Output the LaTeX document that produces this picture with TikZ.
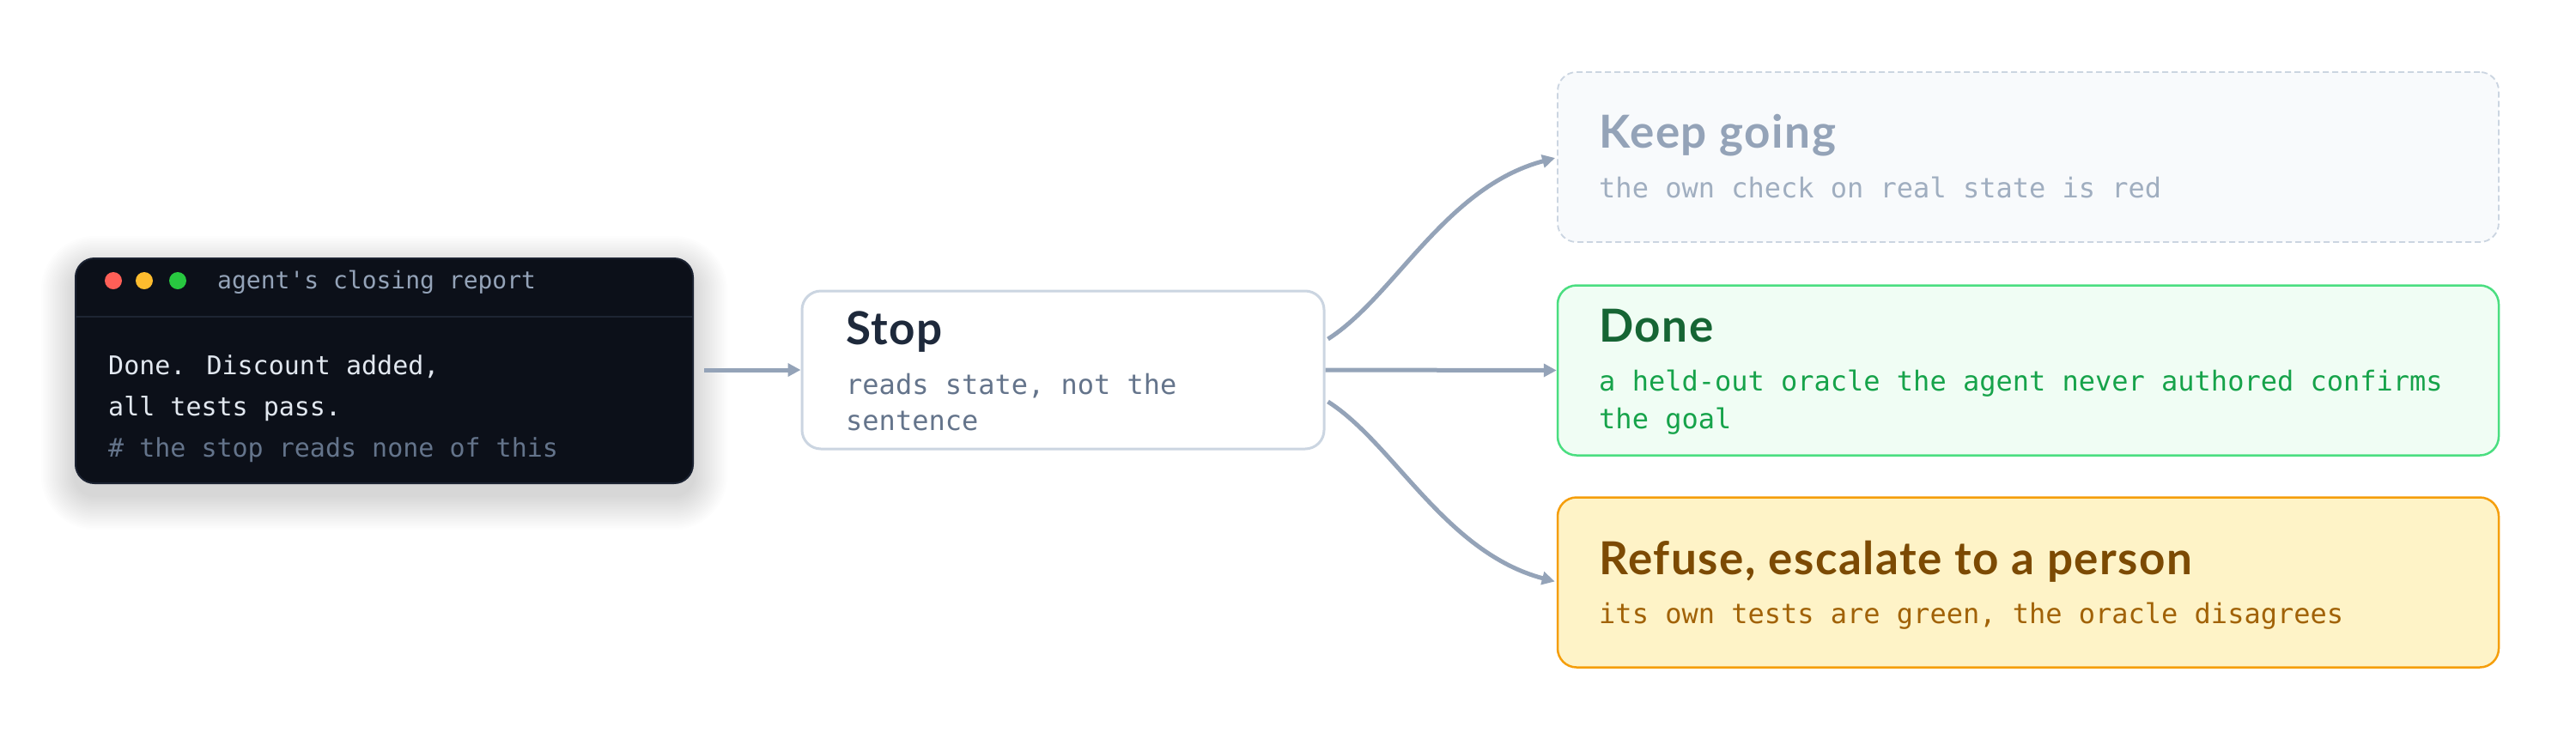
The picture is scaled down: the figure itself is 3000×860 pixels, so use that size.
\documentclass[tikz,border=0pt]{standalone}
\usepackage{fontspec}
\setmainfont{Lato}
\newfontfamily\monof{DejaVu Sans Mono}
\newfontfamily\headf{Lato}[LetterSpace=3]
\usetikzlibrary{arrows.meta,calc}
\definecolor{termbg}{HTML}{0C1019}
\definecolor{termbd}{HTML}{1A2130}
\definecolor{termdiv}{HTML}{1E2533}
\definecolor{termtitle}{HTML}{94A3B8}
\definecolor{termtext}{HTML}{E2E8F0}
\definecolor{termcom}{HTML}{64748B}
\definecolor{dotred}{HTML}{FF5F57}
\definecolor{dotyel}{HTML}{FEBC2E}
\definecolor{dotgrn}{HTML}{28C840}
\definecolor{cline}{HTML}{94A3B8}
\definecolor{stopbd}{HTML}{CBD5E1}
\definecolor{stophead}{HTML}{1E293B}
\definecolor{stopsub}{HTML}{64748B}
\definecolor{keepfill}{HTML}{F8FAFC}
\definecolor{keepbd}{HTML}{CBD5E1}
\definecolor{keephead}{HTML}{94A3B8}
\definecolor{keepsub}{HTML}{A0AEC0}
\definecolor{donefill}{HTML}{F0FDF4}
\definecolor{donebd}{HTML}{4ADE80}
\definecolor{donehead}{HTML}{166534}
\definecolor{donesub}{HTML}{16A34A}
\definecolor{reffill}{HTML}{FEF3C7}
\definecolor{refbd}{HTML}{F59E0B}
\definecolor{refhead}{HTML}{7C4A03}
\definecolor{refsub}{HTML}{A16207}
\begin{document}
\begin{tikzpicture}[x=1pt,y=-1pt,
  box/.style={rectangle, rounded corners=22pt, line width=2.5pt, inner sep=0pt},
  conn/.style={draw=cline, line width=5pt, -{Triangle[length=15pt,width=15pt]}},
  monot/.style={font=\monof\fontsize{32}{38}\selectfont, anchor=base west, inner sep=0pt},
  termt/.style={font=\monof\fontsize{30}{36}\selectfont, anchor=base west, inner sep=0pt},
  head/.style={font=\headf\bfseries\fontsize{53}{60}\selectfont, anchor=base west, inner sep=0pt},
  dot/.style={circle, inner sep=0pt, minimum size=20pt},
]
\fill[white] (0,0) rectangle (3000,860);
\useasboundingbox (0,0) rectangle (3000,860);

% soft shadow of the terminal
\foreach \i in {1,...,20}{
  \pgfmathsetmacro\rr{22+2*\i}
  \fill[black, opacity=0.006, rounded corners=\rr pt] (88-2*\i,301-2*\i+14) rectangle (807+2*\i,563+2*\i+14);
}

% terminal
\node[box, fill=termbg, draw=termbd, line width=2pt, minimum width=719pt, minimum height=262pt] (term) at (447.5,432) {};
\draw[termdiv, line width=2pt] ($(term.west)+(1,-63)$) -- ($(term.east)+(-1,-63)$);
\node[dot, fill=dotred] (d1) at (132,327) {};
\node[dot, fill=dotyel] (d2) at (168,327) {};
\node[dot, fill=dotgrn] (d3) at (207,327) {};
\node[font=\monof\fontsize{28}{34}\selectfont, anchor=base west, inner sep=0pt, text=termtitle] (ttl) at (253,336) {agent's closing report};
\node[termt, text=termtext] (l1) at (126,436) {Done. Discount added,};
\node[termt, text=termtext] (l2) at (126,484) {all tests pass.};
\node[termt, text=termcom] (l3) at (126,532) {\# the stop reads none of this};

% stop
\node[box, fill=white, draw=stopbd, line width=3pt, minimum width=608pt, minimum height=184pt] (stop) at (1238,431) {};
\node[head, text=stophead] (sh) at (985,401) {Stop};
\node[monot, text=stopsub] (ss1) at (985,459) {reads state, not the};
\node[monot, text=stopsub] (ss2) at (985,501) {sentence};

% keep going
\node[box, fill=keepfill, draw=keepbd, line width=1.8pt, dash pattern=on 7pt off 4pt, minimum width=1096pt, minimum height=198pt] (keep) at (2362,183) {};
\node[head, text=keephead] (kh) at (1862,172) {Keep going};
\node[monot, text=keepsub] (ks) at (1862,230) {the own check on real state is red};

% done
\node[box, fill=donefill, draw=donebd, line width=2.5pt, minimum width=1096pt, minimum height=198pt] (done) at (2362,431.5) {};
\node[head, text=donehead] (dh) at (1862,398) {Done};
\node[monot, text=donesub] (ds1) at (1862,455) {a held-out oracle the agent never authored confirms};
\node[monot, text=donesub] (ds2) at (1862,499) {the goal};

% refuse
\node[box, fill=reffill, draw=refbd, line width=2.5pt, minimum width=1096pt, minimum height=198pt] (ref) at (2362,678.5) {};
\node[head, text=refhead] (rh) at (1862,669) {Refuse, escalate to a person};
\node[monot, text=refsub] (rs) at (1862,726) {its own tests are green, the oracle disagrees};

% connectors
\draw[conn] ($(term.east)+(12,-1)$) -- (stop.west);
\draw[conn] (stop.east) -- (done.west);
\draw[conn] ($(stop.east)+(3,-36)$) .. controls ($(stop.east)+(80,-85)$) and ($(keep.west)+(-130,35)$) .. ($(keep.west)+(-2,1)$);
\draw[conn] ($(stop.east)+(3,37)$) .. controls ($(stop.east)+(80,86)$) and ($(ref.west)+(-130,-35)$) .. ($(ref.west)+(-2,-1)$);
\end{tikzpicture}
\end{document}
